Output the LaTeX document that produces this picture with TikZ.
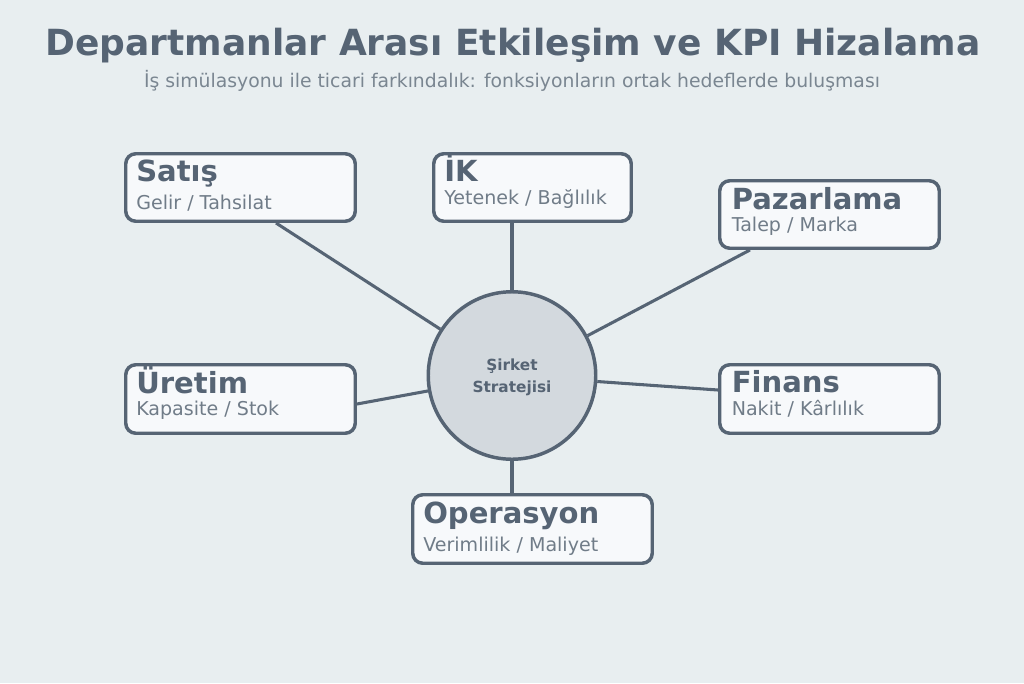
\documentclass[tikz,border=0pt]{standalone}
\usepackage{fontspec}
\setmainfont{DejaVu Sans}
\usetikzlibrary{calc,backgrounds}
\definecolor{bgc}{RGB}{232,238,240}
\definecolor{dark}{RGB}{86,100,116}
\definecolor{boxfill}{RGB}{247,249,251}
\definecolor{corefill}{RGB}{211,217,222}
\definecolor{subgray}{RGB}{112,124,136}
\definecolor{capgray}{RGB}{122,134,145}
\begin{document}
\begin{tikzpicture}[x=0.75pt,y=-0.75pt,
  box/.style={draw=dark, line width=2.6pt, fill=boxfill, rounded corners=7.5pt, inner sep=0pt, minimum height={67.5*0.75pt}},
  ttl/.style={anchor=base west, inner sep=0pt, text=dark, font=\fontsize{21.8}{26}\selectfont\bfseries},
  sub/.style={anchor=base west, inner sep=0pt, text=subgray, font=\fontsize{14.3}{17}\selectfont},
  link/.style={draw=dark, line width=2.3pt},
  coretxt/.style={anchor=base, inner sep=0pt, text=dark, font=\fontsize{11.5}{14}\selectfont\bfseries}]
\useasboundingbox (0,0) rectangle (1024,683);
\begin{scope}[on background layer]
  \fill[bgc] (0,0) rectangle (1024,683);
\end{scope}

% title
\node[anchor=base, inner sep=0pt, text=dark, font=\fontsize{27}{32}\selectfont\bfseries] (title) at (513,55) {Departmanlar Arası Etkileşim ve KPI Hizalama};
\node[anchor=base, inner sep=0pt, text=capgray, font=\fontsize{14.1}{17}\selectfont] (subtitle) at (512,87) {İş simülasyonu ile ticari farkındalık: fonksiyonların ortak hedeflerde buluşması};

% core
\node[draw=dark, line width=2.6pt, fill=corefill, circle, inner sep=0pt, minimum size={167.5*0.75pt}] (core) at (512,375.5) {};
\node[coretxt] (coreA) at (512,370.5) {Şirket};
\node[coretxt] (coreB) at (512,392.5) {Stratejisi};

% boxes
\node[box, minimum width={229.5*0.75pt}] (satis) at (240.5,187.5) {};
\node[ttl] (satisT) at (136,181.7) {Satış};
\node[sub] (satisS) at (136,209.5) {Gelir / Tahsilat};

\node[box, minimum width={197.5*0.75pt}] (ik) at (532.5,187.5) {};
\node[ttl] (ikT) at (444,181.7) {İK};
\node[sub] (ikS) at (444,204.5) {Yetenek / Bağlılık};

\node[box, minimum width={219.5*0.75pt}] (pazar) at (829.5,214.5) {};
\node[ttl] (pazarT) at (731.5,209.3) {Pazarlama};
\node[sub] (pazarS) at (731.5,231.5) {Talep / Marka};

\node[box, minimum width={229.5*0.75pt}, minimum height={68.5*0.75pt}] (uretim) at (240.5,399) {};
\node[ttl] (uretimT) at (136,393.3) {Üretim};
\node[sub] (uretimS) at (136,415.5) {Kapasite / Stok};

\node[box, minimum width={219.5*0.75pt}, minimum height={68.5*0.75pt}] (finans) at (829.5,399) {};
\node[ttl] (finansT) at (731.5,392.3) {Finans};
\node[sub] (finansS) at (731.5,415.5) {Nakit / Kârlılık};

\node[box, minimum width={239.5*0.75pt}, minimum height={68.5*0.75pt}] (oper) at (532.5,529) {};
\node[ttl] (operT) at (423,523.3) {Operasyon};
\node[sub] (operS) at (423,551) {Verimlilik / Maliyet};

% connectors
\begin{scope}[on background layer]
  \draw[link] ($(satis.south)+(35.5,0)$) -- (core);
  \draw[link] ($(ik.south)+(-20.5,0)$) -- (core);
  \draw[link] ($(pazar.south)+(-79.5,0)$) -- (core);
  \draw[link] ($(uretim.east)+(0,5)$) -- (core);
  \draw[link] ($(finans.west)+(0,-9)$) -- (core);
  \draw[link] ($(oper.north)+(-20.5,0)$) -- (core);
\end{scope}
\end{tikzpicture}
\end{document}
